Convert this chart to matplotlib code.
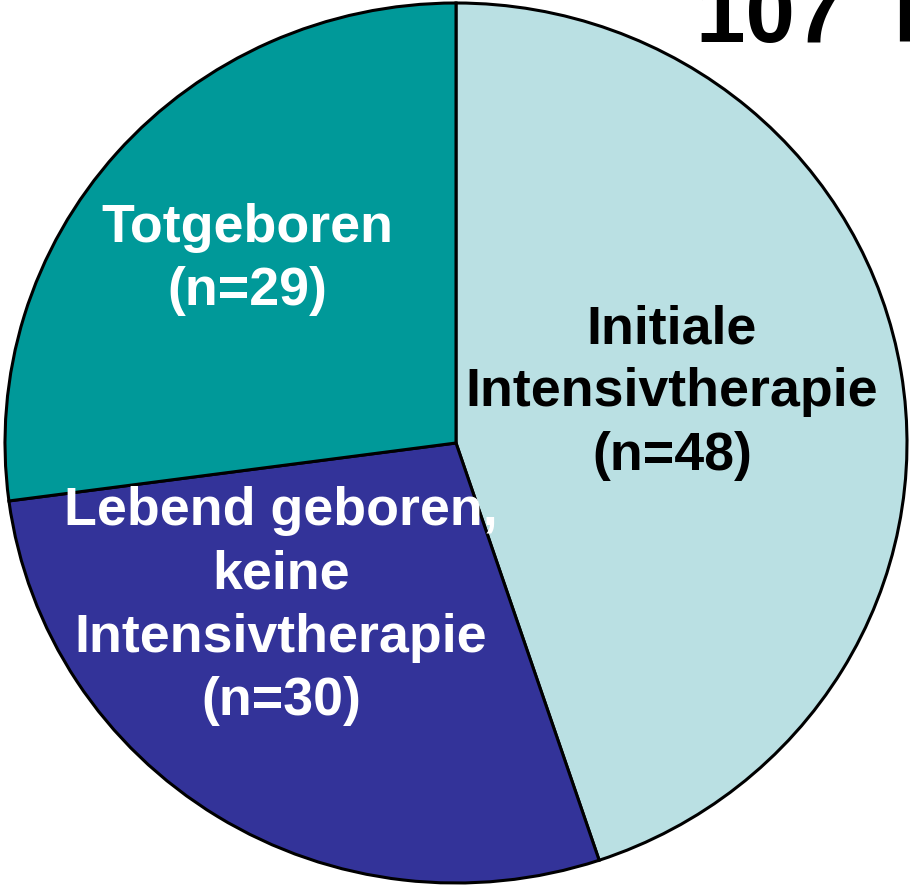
import matplotlib
matplotlib.use("Agg")
import matplotlib.pyplot as plt

labels = [["Initiale", "Intensivtherapie", "(n=48)"],
          ["Lebend geboren,", "keine", "Intensivtherapie", "(n=30)"],
          ["Totgeboren", "(n=29)"]]
values = [48, 30, 29]
colors = ["#BAE0E3", "#333399", "#009999"]
text_colors = ["black", "white", "white"]
title = "107  F"

W, H = 910, 887
fig = plt.figure(figsize=(W / 100, H / 100), dpi=100)
fig.patch.set_facecolor("white")
ax = fig.add_axes([5 / W, 3 / H, 902 / W, 880 / H])
wedges, _ = ax.pie(values, colors=colors, startangle=90, counterclock=False,
                   wedgeprops=dict(edgecolor="black", linewidth=2.2))
for w in wedges:
    w.set_clip_on(False)
ax.set_aspect("auto")
ax.set_xlim(-1, 1)
ax.set_ylim(-1, 1)
ax.axis("off")

# label placement: (center x, first baseline y) in pixels, line step in pixels
pos = [(672, 343), (281, 525), (247, 242)]
step = 63.5
for (px, py), lines, tc in zip(pos, labels, text_colors):
    for i, line in enumerate(lines):
        fig.text(px / W, 1 - (py + i * step) / H, line, ha="center",
                 va="baseline", color=tc, fontsize=38.7, fontweight="bold",
                 family="Liberation Sans")

fig.text(696 / W, 1 - 42 / H, title, ha="left", va="baseline", color="black",
         fontsize=64, fontweight="bold", family="Liberation Sans")

fig.savefig("out.png", dpi=100)
